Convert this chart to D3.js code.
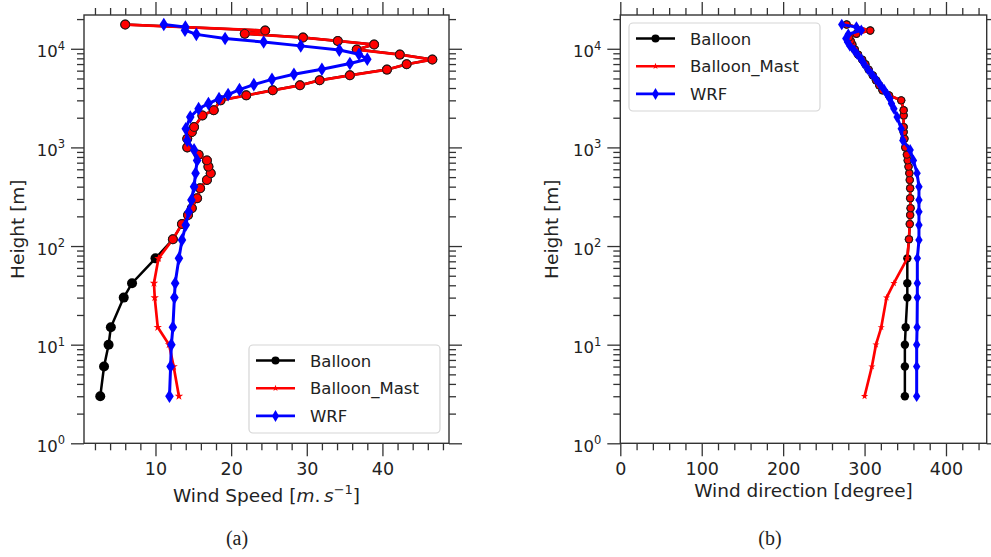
<!DOCTYPE html>
<html><head><meta charset="utf-8">
<script src="https://cdn.jsdelivr.net/npm/d3@7"></script>
<style>body{margin:0;background:#fff}svg{display:block}</style>
</head><body>
<svg id="c" width="991" height="557"></svg>
<script>
// ---------- data ----------
const heightTicks = [1, 10, 100, 1000, 10000];
const speedTicks = [10, 20, 30, 40];
const dirTicks = [0, 100, 200, 300, 400];
const seriesNames = ["Balloon", "Balloon_Mast", "WRF"];

const balloonHeight = [3, 6, 10, 15, 30, 42, 75, 117, 167, 206, 242, 305, 385, 468, 547, 638, 738,
  843, 1000, 1225, 1430, 1607, 2110, 2380, 3000, 3370, 3790,
  4260, 4790, 5380, 6150, 6970, 7770, 8730, 9820, 11040, 12000,
  13000, 14200, 15300, 17600];
const balloonSpeed = [2.7, 3.2, 3.8, 4.1, 5.8, 6.9, 10.0, 12.3, 13.5, 14.3, 14.8, 15.5, 15.9, 16.8, 17.3, 17.0, 16.8,
  15.7, 14.2, 14.2, 14.8, 15.1, 16.2, 17.7, 18.6, 22.0, 25.5,
  29.1, 31.7, 35.7, 40.6, 43.2, 46.6, 42.3, 36.6, 38.9, 34.1,
  29.5, 21.8, 24.5, 6.0];
const balloonDir = [349.5, 349.5, 349.5, 350.5, 352.5, 352.5, 352.5, 354.5, 355.5, 356, 356.5, 356, 356, 355.5, 355, 354, 353,
  352, 350, 349, 348, 348, 348, 348, 345, 330, 322,
  318, 314, 310, 305, 301, 297, 292, 288, 285, 283,
  281, 290, 307, 278];

const mastHeight = [3, 6, 10, 15, 30, 42, 75];
const mastSpeed = [13.1, 12.4, 11.8, 10.3, 9.9, 9.8, 10.4];
const mastDir = [300, 309, 314, 320.5, 327, 336, 352.5];

const wrfHeight = [3, 6, 10, 15, 30, 42, 75, 115, 163, 223, 293, 400, 547, 738, 943,
  1178, 1548, 2030, 2470, 2780, 3120, 3430, 3850, 4330, 4900,
  5510, 6190, 7080, 7850, 8800, 9700, 10700, 11700, 12700, 14000,
  15400, 16600, 17600];
const wrfSpeed = [11.85, 12.0, 12.1, 12.3, 12.5, 12.6, 13.1, 13.5, 14.0, 14.4, 14.75, 15.1, 15.3, 15.5, 15.1,
  14.2, 14.0, 14.6, 15.7, 17.0, 18.4, 19.6, 21.1, 23.0, 25.4,
  28.3, 32.0, 35.7, 38.0, 36.9, 34.3, 29.2, 24.3, 19.2, 15.4,
  13.9, 13.95, 11.1];
const wrfDir = [364, 364, 364, 364.5, 364.8, 364.8, 364.8, 366.8, 366.8, 366.8, 366.8, 366.8, 364.5, 360, 356,
  347, 345, 340, 336, 333, 331, 328, 324, 319, 314,
  309, 304, 299, 296, 291, 287, 282, 279, 277, 280,
  296, 290, 272];

// ---------- helpers ----------
const svg = d3.select("#c");
const FONT = "'DejaVu Sans', sans-serif";
const TXT = "#222";
const SPINE = "#333";
const Y0 = 443.3, Y1 = 15;
const y = d3.scaleLog().domain([1, 22000]).range([Y0, Y1]);

const minorY = [];
for (let k = 0; k <= 4; k++) for (let m = 2; m <= 9; m++) { const v = m * Math.pow(10, k); if (v <= 22000) minorY.push(v); }

function thinDiamond(w, h) { return `M0,${-h}L${w},0L0,${h}L${-w},0Z`; }
const starPath = s => d3.symbol(d3.symbolStar, s)();

function build(key) {
  const bal = balloonHeight.map((h, i) => ({ h, v: key === "s" ? balloonSpeed[i] : balloonDir[i] }));
  const mastLow = mastHeight.map((h, i) => ({ h, v: key === "s" ? mastSpeed[i] : mastDir[i], star: true }));
  const maxMast = d3.max(mastHeight);
  const mast = mastLow.concat(bal.filter(d => d.h > maxMast).map(d => ({ h: d.h, v: d.v, star: false })));
  const wrf = wrfHeight.map((h, i) => ({ h, v: key === "s" ? wrfSpeed[i] : wrfDir[i] }));
  return { bal, mast, wrf };
}

function styleAxis(sel, fs) {
  sel.select(".domain").remove();
  sel.selectAll(".tick line").attr("stroke", SPINE).attr("stroke-width", 1.3);
  sel.selectAll("text").attr("fill", TXT).attr("font-family", FONT).attr("font-size", fs || 16);
}

function panel(o) {
  const g = svg.append("g");
  const x = d3.scaleLinear().domain(o.domain).range([o.x0, o.x1]);
  const minorX = d3.range(o.domain[0] < 0.1 ? 0 : o.minorStep, o.domain[1] + 1e-9, o.minorStep)
    .filter(v => v >= o.domain[0] && !o.majors.includes(v));

  // bottom
  g.append("g").attr("transform", `translate(0,${Y0})`)
    .call(d3.axisBottom(x).tickValues(o.majors).tickSize(13).tickPadding(6).tickFormat(d3.format("d"))).call(styleAxis, 17.5);
  g.append("g").attr("transform", `translate(0,${Y0})`)
    .call(d3.axisBottom(x).tickValues(minorX).tickSize(7).tickFormat("")).call(styleAxis);
  // top
  g.append("g").attr("transform", `translate(0,${Y1})`)
    .call(d3.axisTop(x).tickValues(o.majors).tickSize(13).tickFormat("")).call(styleAxis);
  g.append("g").attr("transform", `translate(0,${Y1})`)
    .call(d3.axisTop(x).tickValues(minorX).tickSize(7).tickFormat("")).call(styleAxis);
  // left
  const la = g.append("g").attr("transform", `translate(${o.x0},0)`)
    .call(d3.axisLeft(y).tickValues(heightTicks).tickSize(13).tickPadding(6).tickFormat(d => "")).call(styleAxis, 16.5);
  la.selectAll(".tick text").each(function (d) {
    const t = d3.select(this).attr("dy", null).attr("y", 8);
    t.append("tspan").text("10");
    t.append("tspan").attr("dy", -7.5).attr("font-size", 11.5).text(Math.round(Math.log10(d)));
  });
  g.append("g").attr("transform", `translate(${o.x0},0)`)
    .call(d3.axisLeft(y).tickValues(minorY).tickSize(7).tickFormat("")).call(styleAxis);
  // right
  g.append("g").attr("transform", `translate(${o.x1},0)`)
    .call(d3.axisRight(y).tickValues(heightTicks).tickSize(13).tickFormat("")).call(styleAxis);
  g.append("g").attr("transform", `translate(${o.x1},0)`)
    .call(d3.axisRight(y).tickValues(minorY).tickSize(7).tickFormat("")).call(styleAxis);

  // frame
  g.append("rect").attr("x", o.x0).attr("y", Y1).attr("width", o.x1 - o.x0).attr("height", Y0 - Y1)
    .attr("fill", "none").attr("stroke", SPINE).attr("stroke-width", 1.4);

  // data
  const D = build(o.key);
  const line = d3.line().x(d => x(d.v)).y(d => y(d.h));
  const m = o.mk;
  // Balloon
  g.append("path").datum(D.bal).attr("d", line).attr("fill", "none").attr("stroke", "#000").attr("stroke-width", 2.5);
  g.selectAll(".bm").data(D.bal).join("circle").attr("cx", d => x(d.v)).attr("cy", d => y(d.h)).attr("r", m.r).attr("fill", "#000");
  // Balloon_Mast
  g.append("path").datum(D.mast).attr("d", line).attr("fill", "none").attr("stroke", "#ff0000").attr("stroke-width", 2.7);
  g.selectAll(".mm").data(D.mast).join("path")
    .attr("transform", d => `translate(${x(d.v)},${y(d.h)})`)
    .attr("d", d => d.star ? starPath(m.star) : d3.symbol(d3.symbolCircle, Math.PI * m.rr * m.rr)())
    .attr("fill", "#ff0000")
    .attr("stroke", d => d.star ? "none" : "#1a1a1a").attr("stroke-width", 0.9);
  // WRF
  g.append("path").datum(D.wrf).attr("d", line).attr("fill", "none").attr("stroke", "#0000ff").attr("stroke-width", 3);
  g.selectAll(".wm").data(D.wrf).join("path")
    .attr("transform", d => `translate(${x(d.v)},${y(d.h)})`)
    .attr("d", thinDiamond(m.dw, m.dh)).attr("fill", "#0000ff");

  // y title
  g.append("text").attr("transform", `translate(${o.yTitleX},${(Y0 + Y1) / 2}) rotate(-90)`)
    .attr("text-anchor", "middle").attr("font-family", FONT).attr("font-size", 18.5).attr("fill", TXT).text("Height [m]");

  // x title
  const xt = g.append("text").attr("x", (o.x0 + o.x1) / 2).attr("y", o.xTitleY).attr("text-anchor", "middle")
    .attr("font-family", FONT).attr("font-size", 18.5).attr("fill", TXT);
  o.xTitle(xt);

  // caption
  svg.append("text").attr("x", o.capX).attr("y", 545).attr("text-anchor", "middle")
    .attr("font-family", "'Liberation Serif', 'DejaVu Serif', serif").attr("font-size", 20).attr("fill", "#222").text(o.cap);

  // legend
  const L = o.legend;
  const lg = g.append("g");
  lg.append("rect").attr("x", L.x).attr("y", L.y).attr("width", L.w).attr("height", L.h).attr("rx", 4)
    .attr("fill", "#fff").attr("fill-opacity", 0.85).attr("stroke", "#d5d5d5").attr("stroke-width", 1.2);
  const styles = [
    { c: "#000", mark: () => d3.symbol(d3.symbolCircle, Math.PI * 16)() },
    { c: "#ff0000", mark: () => starPath(14) },
    { c: "#0000ff", mark: () => thinDiamond(3.5, 6) }
  ];
  seriesNames.forEach((name, i) => {
    const yy = L.y + 15.5 + i * 27.7;
    const lx0 = L.x + 7, lx1 = L.x + 46;
    lg.append("line").attr("x1", lx0).attr("x2", lx1).attr("y1", yy).attr("y2", yy)
      .attr("stroke", styles[i].c).attr("stroke-width", 2.6);
    lg.append("path").attr("transform", `translate(${(lx0 + lx1) / 2},${yy})`).attr("d", styles[i].mark()).attr("fill", styles[i].c);
    lg.append("text").attr("x", L.x + 61).attr("y", yy + 6).attr("font-family", FONT).attr("font-size", 16.5)
      .attr("fill", TXT).text(name);
  });
}

panel({
  key: "s", x0: 84, x1: 449, domain: [0.55, 48.8], majors: speedTicks, minorStep: 2,
  mk: { r: 5, rr: 4.4, dw: 4.3, dh: 6.8, star: 22 },
  yTitleX: 24, xTitleY: 502, capX: 237, cap: "(a)",
  legend: { x: 249, y: 345, w: 191, h: 88 },
  xTitle: t => {
    t.append("tspan").text("Wind Speed [");
    t.append("tspan").attr("font-style", "italic").text("m");
    t.append("tspan").text(".");
    t.append("tspan").attr("font-style", "italic").text("\u2009s");
    t.append("tspan").attr("dy", -8).attr("font-size", 13).text("\u22121");
    t.append("tspan").attr("dy", 8).text("]");
  }
});

panel({
  key: "d", x0: 620.3, x1: 986.7, domain: [0, 450], majors: dirTicks, minorStep: 20,
  mk: { r: 4.2, rr: 3.6, dw: 3.7, dh: 5.8, star: 16 },
  yTitleX: 558, xTitleY: 497, capX: 770, cap: "(b)",
  legend: { x: 629, y: 23, w: 191, h: 88 },
  xTitle: t => t.text("Wind direction [degree]")
});
</script>
</body></html>
